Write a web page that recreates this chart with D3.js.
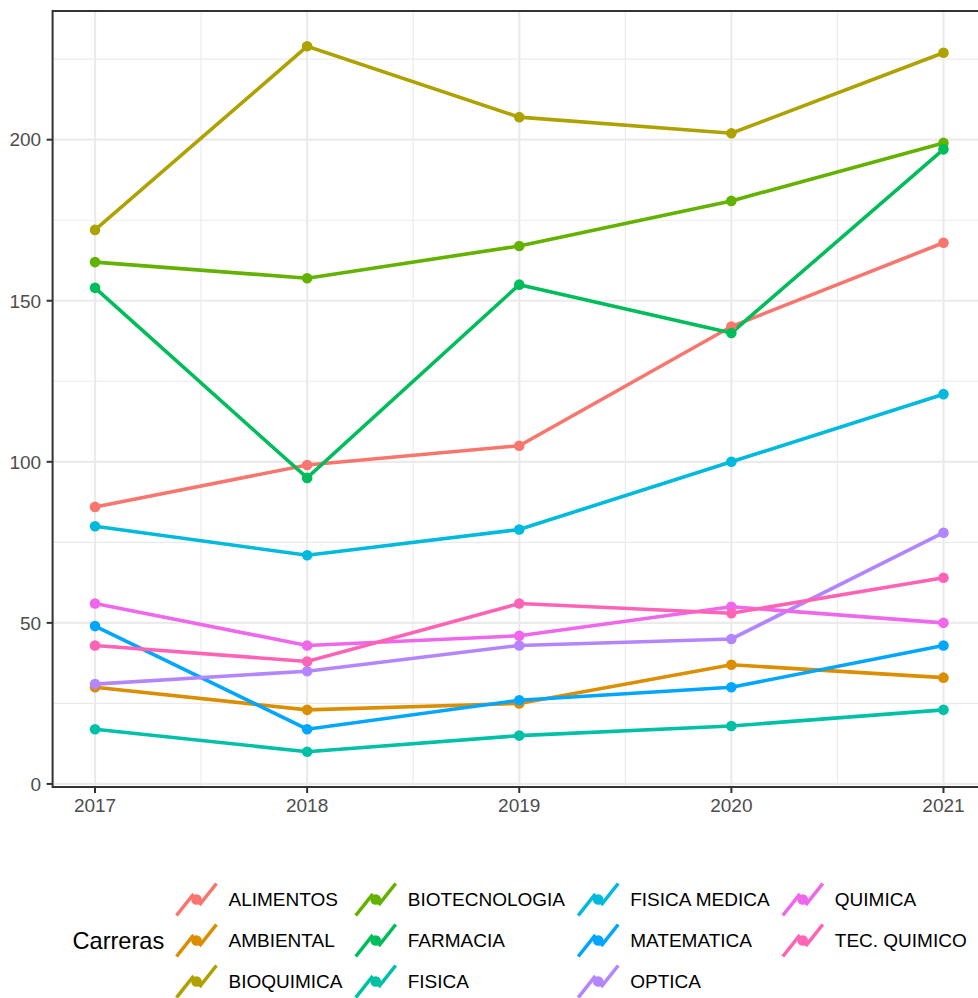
<!DOCTYPE html>
<html>
<head>
    <meta charset="utf-8">
    <title>Carreras por año</title>
    <script src="https://d3js.org/d3.v7.min.js"></script>
    <style>
        body { margin: 0; background: #fff; }
        svg text { font-family: "Liberation Sans", Arial, Helvetica, sans-serif; }
    </style>
</head>
<body>
    <div id="chart"></div>

    <script>
        // datos
        const years = [2017, 2018, 2019, 2020, 2021];
        const carreras = ["ALIMENTOS", "AMBIENTAL", "BIOQUIMICA", "BIOTECNOLOGIA", "FARMACIA",
            "FISICA", "FISICA MEDICA", "MATEMATICA", "OPTICA", "QUIMICA", "TEC. QUIMICO"];
        const colores = ["#F8766D", "#DB8E00", "#AEA200", "#64B200", "#00BD5C",
            "#00C1A7", "#00BADE", "#00A6FF", "#B385FF", "#EF67EB", "#FF63B6"];

        const alimentos     = [86, 99, 105, 142, 168];
        const ambiental     = [30, 23, 25, 37, 33];
        const bioquimica    = [172, 229, 207, 202, 227];
        const biotecnologia = [162, 157, 167, 181, 199];
        const farmacia      = [154, 95, 155, 140, 197];
        const fisica        = [17, 10, 15, 18, 23];
        const fisicaMedica  = [80, 71, 79, 100, 121];
        const matematica    = [49, 17, 26, 30, 43];
        const optica        = [31, 35, 43, 45, 78];
        const quimica       = [56, 43, 46, 55, 50];
        const tecQuimico    = [43, 38, 56, 53, 64];

        const yTicks = [0, 50, 100, 150, 200];
        const yMinor = [25, 75, 125, 175, 225];
        const xMinor = [2017.5, 2018.5, 2019.5, 2020.5];

        const valores = [alimentos, ambiental, bioquimica, biotecnologia, farmacia,
            fisica, fisicaMedica, matematica, optica, quimica, tecQuimico];

        const series = carreras.map((c, i) => ({
            name: c,
            color: colores[i],
            values: years.map((y, j) => ({ year: y, value: valores[i][j] }))
        }));

        // configuracion
        const width = 978;
        const height = 998;
        const panel = { left: 52.6, right: 985.9, top: 11, bottom: 787 };
        const lineW = 3.6;
        const pointR = 5.3;
        const fontSize = "19px";

        const svg = d3.select("#chart")
            .append("svg")
            .attr("width", width)
            .attr("height", height);

        // escalas (con expansion del 5% como ggplot)
        const allVals = valores.flat();
        const yMin = d3.min(allVals), yMax = d3.max(allVals);
        const yPad = (yMax - yMin) * 0.05;
        const xPad = (d3.max(years) - d3.min(years)) * 0.05;

        const x = d3.scaleLinear()
            .domain([d3.min(years) - xPad, d3.max(years) + xPad])
            .range([panel.left, panel.right]);

        const y = d3.scaleLinear()
            .domain([yMin - yPad, yMax + yPad])
            .range([panel.bottom, panel.top]);

        // rejilla
        const grid = svg.append("g");
        grid.selectAll(".ymin").data(yMinor).enter().append("line")
            .attr("x1", panel.left).attr("x2", panel.right)
            .attr("y1", d => y(d)).attr("y2", d => y(d))
            .attr("stroke", "#EBEBEB").attr("stroke-width", 1.14);
        grid.selectAll(".xmin").data(xMinor).enter().append("line")
            .attr("y1", panel.top).attr("y2", panel.bottom)
            .attr("x1", d => x(d)).attr("x2", d => x(d))
            .attr("stroke", "#EBEBEB").attr("stroke-width", 1.14);
        grid.selectAll(".ymaj").data(yTicks).enter().append("line")
            .attr("x1", panel.left).attr("x2", panel.right)
            .attr("y1", d => y(d)).attr("y2", d => y(d))
            .attr("stroke", "#EBEBEB").attr("stroke-width", 2.2);
        grid.selectAll(".xmaj").data(years).enter().append("line")
            .attr("y1", panel.top).attr("y2", panel.bottom)
            .attr("x1", d => x(d)).attr("x2", d => x(d))
            .attr("stroke", "#EBEBEB").attr("stroke-width", 2.2);

        // lineas
        const line = d3.line()
            .x(d => x(d.year))
            .y(d => y(d.value));

        svg.append("g").selectAll("path")
            .data(series)
            .enter().append("path")
            .attr("d", d => line(d.values))
            .attr("fill", "none")
            .attr("stroke", d => d.color)
            .attr("stroke-width", lineW);

        // puntos
        svg.append("g").selectAll("g")
            .data(series)
            .enter().append("g")
            .attr("fill", d => d.color)
            .selectAll("circle")
            .data(d => d.values)
            .enter().append("circle")
            .attr("cx", d => x(d.year))
            .attr("cy", d => y(d.value))
            .attr("r", pointR);

        // borde del panel
        svg.append("rect")
            .attr("x", panel.left).attr("y", panel.top)
            .attr("width", panel.right - panel.left)
            .attr("height", panel.bottom - panel.top)
            .attr("fill", "none")
            .attr("stroke", "#333333")
            .attr("stroke-width", 2);

        // ejes
        const xAxis = svg.append("g");
        xAxis.selectAll("line").data(years).enter().append("line")
            .attr("x1", d => x(d)).attr("x2", d => x(d))
            .attr("y1", panel.bottom).attr("y2", panel.bottom + 6)
            .attr("stroke", "#333333").attr("stroke-width", 2);
        xAxis.selectAll("text").data(years).enter().append("text")
            .attr("x", d => x(d))
            .attr("y", panel.bottom + 24.5)
            .attr("text-anchor", "middle")
            .attr("fill", "#4D4D4D")
            .style("font-size", fontSize)
            .text(d => d);

        const yAxis = svg.append("g");
        yAxis.selectAll("line").data(yTicks).enter().append("line")
            .attr("x1", panel.left - 6).attr("x2", panel.left)
            .attr("y1", d => y(d)).attr("y2", d => y(d))
            .attr("stroke", "#333333").attr("stroke-width", 2);
        yAxis.selectAll("text").data(yTicks).enter().append("text")
            .attr("x", panel.left - 11.5)
            .attr("y", d => y(d) + 6.8)
            .attr("text-anchor", "end")
            .attr("fill", "#4D4D4D")
            .style("font-size", fontSize)
            .text(d => d);

        // leyenda (3 filas, por columnas)
        const legend = svg.append("g");
        const rowY = [899.5, 940.5, 981.5];
        const keySize = 40;
        const nrow = 3;

        legend.append("text")
            .attr("x", 72.5)
            .attr("y", 949.3)
            .style("font-size", "23.6px")
            .attr("fill", "#000")
            .text("Carreras");

        const ncol = Math.ceil(series.length / nrow);
        let keyX = 196.5;
        for (let c = 0; c < ncol; c++) {
            const items = series.slice(c * nrow, c * nrow + nrow);
            let maxW = 0;
            items.forEach((s, r) => {
                const cy = rowY[r];
                const k = legend.append("g");
                const pts = [[0, 0.1], [0.4, 0.6], [0.6, 0.4], [1, 0.9]]
                    .map(p => [keyX - keySize / 2 + p[0] * keySize, cy + keySize / 2 - p[1] * keySize]);
                k.append("path")
                    .attr("d", d3.line()(pts))
                    .attr("fill", "none")
                    .attr("stroke", s.color)
                    .attr("stroke-width", lineW);
                k.append("circle")
                    .attr("cx", keyX).attr("cy", cy)
                    .attr("r", pointR)
                    .attr("fill", s.color);
                const t = legend.append("text")
                    .attr("x", keyX + 32)
                    .attr("y", cy + 6.8)
                    .style("font-size", fontSize)
                    .attr("fill", "#000")
                    .text(s.name);
                maxW = Math.max(maxW, t.node().getComputedTextLength());
            });
            keyX = keyX + 32 + maxW + 33.2;
        }
    </script>
</body>
</html>
